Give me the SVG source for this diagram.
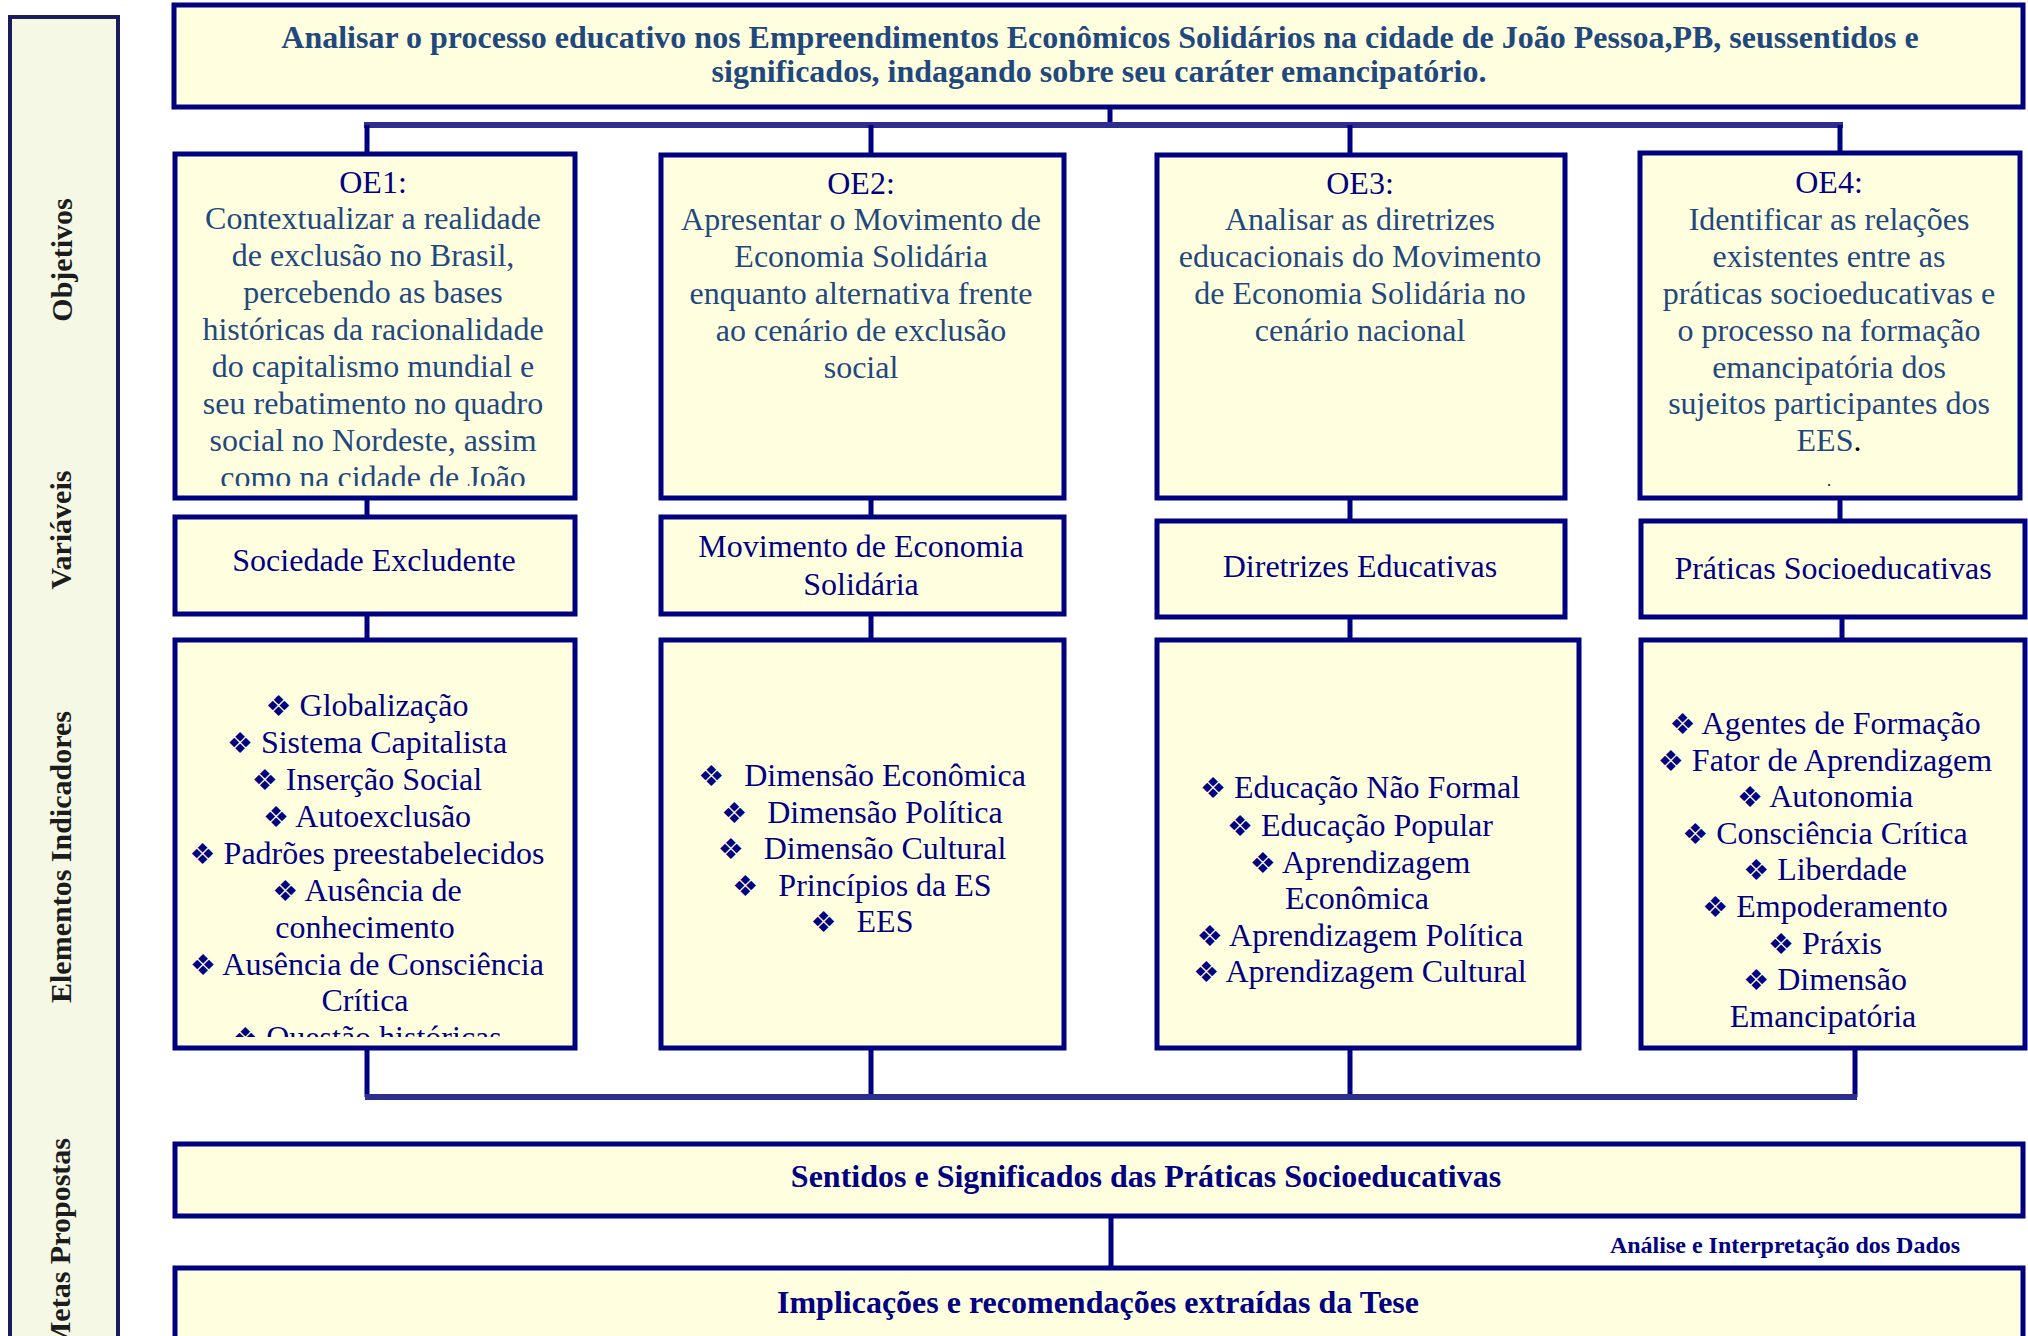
<svg xmlns="http://www.w3.org/2000/svg" width="2028" height="1336" viewBox="0 0 2028 1336">
<style>
.box{fill:#FFFFE0;stroke:#000080;stroke-width:5}
.side{fill:#F6F8E6;stroke:#1a1a5e;stroke-width:4}
.conn{stroke:#000080;stroke-width:5;fill:none}
.bar{stroke:#2e2e90;stroke-width:6;fill:none}
text{font-family:"Liberation Serif","Times New Roman","DejaVu Serif",serif;font-size:32px;text-anchor:middle}
.hd{font-weight:bold;fill:#1F497D}
.oe{fill:#000080}
.st{fill:#1F497D}
.nv{fill:#000080}
.bd{font-weight:bold;fill:#000080}
.sl{font-weight:bold;font-size:30px;fill:#1c1c1c}
.sm{font-weight:bold;font-size:24px;fill:#000080}
.b{font-family:"DejaVu Sans",sans-serif;font-size:29px}
.blk{fill:#000000}
</style>
<defs>
<clipPath id="c1"><rect x="176" y="155" width="396" height="331"/></clipPath>
<clipPath id="c2"><rect x="176" y="642" width="396" height="395"/></clipPath>
</defs>

<g id="sidebar">
<rect class="side" x="10" y="17" width="108" height="1340"/>
<text class="sl" transform="translate(72,260) rotate(-90)">Objetivos</text>
<text class="sl" transform="translate(71,530) rotate(-90)">Variáveis</text>
<text class="sl" transform="translate(71,857) rotate(-90)">Elementos Indicadores</text>
<text class="sl" transform="translate(70,1244) rotate(-90)">Metas Propostas</text>
</g>

<g id="connectors">
<line class="conn" x1="1110" y1="107" x2="1110" y2="125"/>
<line class="bar" x1="364" y1="125" x2="1843" y2="125"/>
<line class="conn" x1="367" y1="125" x2="367" y2="153"/>
<line class="conn" x1="871" y1="125" x2="871" y2="153"/>
<line class="conn" x1="1350" y1="125" x2="1350" y2="153"/>
<line class="conn" x1="1840" y1="125" x2="1840" y2="153"/>
<line class="conn" x1="367" y1="498" x2="367" y2="517"/>
<line class="conn" x1="871" y1="498" x2="871" y2="517"/>
<line class="conn" x1="1350" y1="498" x2="1350" y2="521"/>
<line class="conn" x1="1840" y1="498" x2="1840" y2="521"/>
<line class="conn" x1="367" y1="614" x2="367" y2="640"/>
<line class="conn" x1="871" y1="614" x2="871" y2="640"/>
<line class="conn" x1="1350" y1="617" x2="1350" y2="640"/>
<line class="conn" x1="1842" y1="617" x2="1842" y2="640"/>
<line class="conn" x1="367" y1="1048" x2="367" y2="1097"/>
<line class="conn" x1="871" y1="1048" x2="871" y2="1097"/>
<line class="conn" x1="1350" y1="1048" x2="1350" y2="1097"/>
<line class="conn" x1="1855" y1="1048" x2="1855" y2="1097"/>
<line class="bar" x1="365" y1="1097" x2="1857" y2="1097"/>
<line class="conn" x1="1111" y1="1216" x2="1111" y2="1268"/>
</g>

<g id="objetivo-geral">
<rect class="box" x="174" y="5" width="1849" height="102"/>
<text class="hd" x="1100" y="48">Analisar o processo educativo nos Empreendimentos Econômicos Solidários na cidade de João Pessoa,PB, seussentidos e</text>
<text class="hd" x="1099" y="82">significados, indagando sobre seu caráter emancipatório.</text>
</g>

<g id="oe1">
<rect class="box" x="175" y="154" width="400" height="344"/>
<g clip-path="url(#c1)">
<text class="oe" x="373" y="193">OE1:</text>
<text class="st" x="373" y="229">Contextualizar a realidade</text>
<text class="st" x="373" y="266">de exclusão no Brasil,</text>
<text class="st" x="373" y="303">percebendo as bases</text>
<text class="st" x="373" y="340">históricas da racionalidade</text>
<text class="st" x="373" y="377">do capitalismo mundial e</text>
<text class="st" x="373" y="414">seu rebatimento no quadro</text>
<text class="st" x="373" y="451">social no Nordeste, assim</text>
<text class="st" x="373" y="488">como na cidade de João</text>
</g>
</g>

<g id="oe2">
<rect class="box" x="661" y="155" width="403" height="343"/>
<text class="oe" x="861" y="194">OE2:</text>
<text class="st" x="861" y="230">Apresentar o Movimento de</text>
<text class="st" x="861" y="267">Economia Solidária</text>
<text class="st" x="861" y="304">enquanto alternativa frente</text>
<text class="st" x="861" y="341">ao cenário de exclusão</text>
<text class="st" x="861" y="378">social</text>
</g>

<g id="oe3">
<rect class="box" x="1157" y="155" width="408" height="343"/>
<text class="oe" x="1360" y="194">OE3:</text>
<text class="st" x="1360" y="230">Analisar as diretrizes</text>
<text class="st" x="1360" y="267">educacionais do Movimento</text>
<text class="st" x="1360" y="304">de Economia Solidária no</text>
<text class="st" x="1360" y="341">cenário nacional</text>
</g>

<g id="oe4">
<rect class="box" x="1640" y="153" width="380" height="345"/>
<text class="oe" x="1829" y="193">OE4:</text>
<text class="st" x="1829" y="230">Identificar as relações</text>
<text class="st" x="1829" y="267">existentes entre as</text>
<text class="st" x="1829" y="304">práticas socioeducativas e</text>
<text class="st" x="1829" y="341">o processo na formação</text>
<text class="st" x="1829" y="378">emancipatória dos</text>
<text class="st" x="1829" y="414">sujeitos participantes dos</text>
<text class="st" x="1829" y="451">EES<tspan class="blk">.</tspan></text>
<text class="blk" x="1829" y="486" style="font-size:16px">.</text>
</g>

<g id="var1">
<rect class="box" x="175" y="517" width="400" height="97"/>
<text class="nv" x="374" y="571">Sociedade Excludente</text>
</g>
<g id="var2">
<rect class="box" x="661" y="517" width="403" height="97"/>
<text class="nv" x="861" y="557">Movimento de Economia</text>
<text class="nv" x="861" y="595">Solidária</text>
</g>
<g id="var3">
<rect class="box" x="1157" y="521" width="408" height="96"/>
<text class="nv" x="1360" y="577">Diretrizes Educativas</text>
</g>
<g id="var4">
<rect class="box" x="1641" y="521" width="384" height="96"/>
<text class="nv" x="1833" y="579">Práticas Socioeducativas</text>
</g>

<g id="ind1">
<rect class="box" x="175" y="640" width="400" height="408"/>
<g clip-path="url(#c2)">
<text class="nv" x="367" y="716"><tspan class="b">❖</tspan> Globalização</text>
<text class="nv" x="367" y="753"><tspan class="b">❖</tspan> Sistema Capitalista</text>
<text class="nv" x="367" y="790"><tspan class="b">❖</tspan> Inserção Social</text>
<text class="nv" x="367" y="827"><tspan class="b">❖</tspan> Autoexclusão</text>
<text class="nv" x="367" y="864"><tspan class="b">❖</tspan> Padrões preestabelecidos</text>
<text class="nv" x="367" y="901"><tspan class="b">❖</tspan> Ausência de</text>
<text class="nv" x="365" y="938">conhecimento</text>
<text class="nv" x="367" y="975"><tspan class="b">❖</tspan> Ausência de Consciência</text>
<text class="nv" x="365" y="1011">Crítica</text>
<text class="nv" x="367" y="1048"><tspan class="b">❖</tspan> Questão históricas</text>
</g>
</g>

<g id="ind2">
<rect class="box" x="661" y="640" width="403" height="408"/>
<text class="nv" x="862" y="786"><tspan class="b">❖</tspan><tspan dx="20">Dimensão Econômica</tspan></text>
<text class="nv" x="862" y="823"><tspan class="b">❖</tspan><tspan dx="20">Dimensão Política</tspan></text>
<text class="nv" x="862" y="859"><tspan class="b">❖</tspan><tspan dx="20">Dimensão Cultural</tspan></text>
<text class="nv" x="862" y="896"><tspan class="b">❖</tspan><tspan dx="20">Princípios da ES</tspan></text>
<text class="nv" x="862" y="932"><tspan class="b">❖</tspan><tspan dx="20">EES</tspan></text>
</g>

<g id="ind3">
<rect class="box" x="1157" y="640" width="422" height="408"/>
<text class="nv" x="1360" y="798"><tspan class="b">❖</tspan> Educação Não Formal</text>
<text class="nv" x="1360" y="836"><tspan class="b">❖</tspan> Educação Popular</text>
<text class="nv" x="1360" y="873"><tspan class="b">❖</tspan> Aprendizagem</text>
<text class="nv" x="1357" y="909">Econômica</text>
<text class="nv" x="1360" y="946"><tspan class="b">❖</tspan> Aprendizagem Política</text>
<text class="nv" x="1360" y="982"><tspan class="b">❖</tspan> Aprendizagem Cultural</text>
</g>

<g id="ind4">
<rect class="box" x="1641" y="640" width="384" height="408"/>
<text class="nv" x="1825" y="734"><tspan class="b">❖</tspan> Agentes de Formação</text>
<text class="nv" x="1825" y="771"><tspan class="b">❖</tspan> Fator de Aprendizagem</text>
<text class="nv" x="1825" y="807"><tspan class="b">❖</tspan> Autonomia</text>
<text class="nv" x="1825" y="844"><tspan class="b">❖</tspan> Consciência Crítica</text>
<text class="nv" x="1825" y="880"><tspan class="b">❖</tspan> Liberdade</text>
<text class="nv" x="1825" y="917"><tspan class="b">❖</tspan> Empoderamento</text>
<text class="nv" x="1825" y="954"><tspan class="b">❖</tspan> Práxis</text>
<text class="nv" x="1825" y="990"><tspan class="b">❖</tspan> Dimensão</text>
<text class="nv" x="1823" y="1027">Emancipatória</text>
</g>

<g id="sentidos">
<rect class="box" x="175" y="1144" width="1848" height="72"/>
<text class="bd" x="1146" y="1187">Sentidos e Significados das Práticas Socioeducativas</text>
</g>

<g id="analise-label">
<text class="sm" x="1785" y="1253">Análise e Interpretação dos Dados</text>
</g>

<g id="implicacoes">
<rect class="box" x="175" y="1268" width="1848" height="100"/>
<text class="bd" x="1098" y="1313">Implicações e recomendações extraídas da Tese</text>
</g>
</svg>
